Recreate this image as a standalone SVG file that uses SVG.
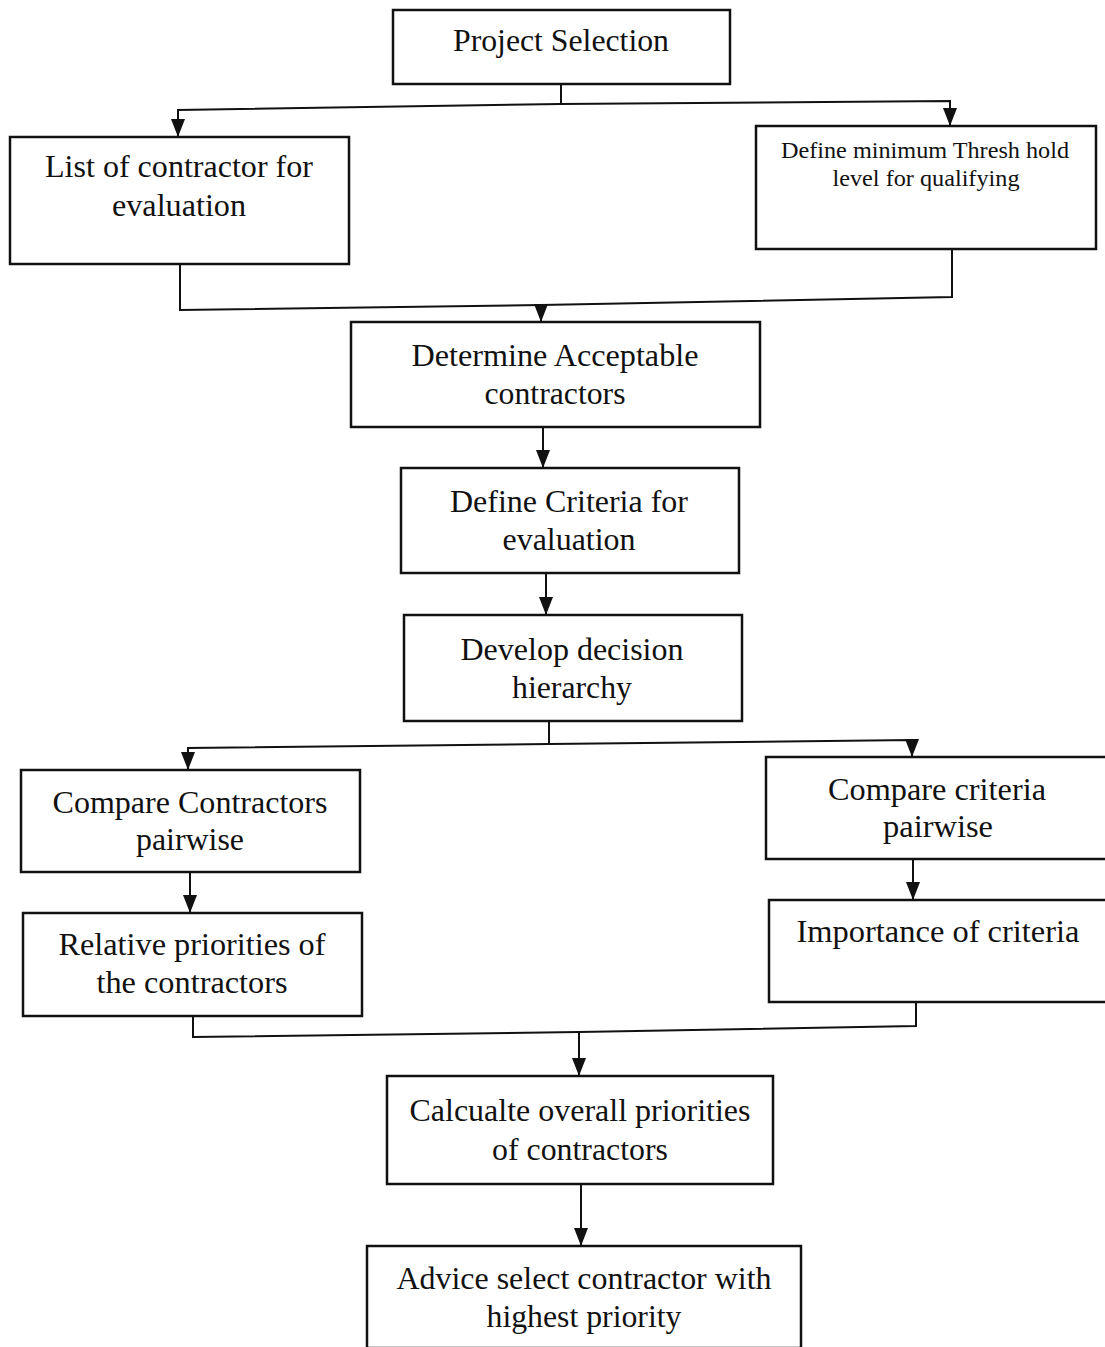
<svg xmlns="http://www.w3.org/2000/svg" width="1105" height="1347" viewBox="0 0 1105 1347">
<defs>
<marker id="ah" viewBox="0 0 18 14" refX="18" refY="7" markerWidth="18" markerHeight="14" markerUnits="userSpaceOnUse" orient="auto">
<path d="M0,0 L18,7 L0,14 Z" fill="#111"/>
</marker>
<style>
.box{fill:#fff;stroke:#111;stroke-width:2.5}
.t{font-family:"Liberation Serif","Times New Roman",serif;font-size:31px;fill:#111;text-anchor:middle}
.s{font-size:24px}
.c{fill:none;stroke:#111;stroke-width:2}
.a{fill:none;stroke:#111;stroke-width:2;marker-end:url(#ah)}
</style>
</defs>
<rect width="1105" height="1347" fill="#fff"/>
<g id="connectors">
<polyline class="c" points="561,84 561,104"/>
<polyline class="a" points="561,104 178,110 178,137"/>
<polyline class="a" points="561,104 950,101 950,126"/>
<polyline class="c" points="180,264 180,310 541,305"/>
<polyline class="c" points="952,249 952,297 541,305"/>
<polyline class="a" points="541,305 541,322"/>
<polyline class="a" points="543,427 543,468"/>
<polyline class="a" points="546,573 546,615"/>
<polyline class="c" points="549,721 549,744"/>
<polyline class="a" points="549,744 188,748 188,770"/>
<polyline class="a" points="549,744 912,740 912,757"/>
<polyline class="a" points="190,872 190,913"/>
<polyline class="a" points="913,859 913,900"/>
<polyline class="c" points="193,1016 193,1037 579,1032"/>
<polyline class="c" points="916,1002 916,1026 579,1032"/>
<polyline class="a" points="579,1032 579,1076"/>
<polyline class="a" points="581,1184 581,1246"/>
</g>
<g id="n1"><rect class="box" x="393" y="10" width="337" height="74"/><text class="t" x="561" y="51" textLength="216" lengthAdjust="spacingAndGlyphs">Project Selection</text></g>
<g id="n2"><rect class="box" x="10" y="137" width="339" height="127"/><text class="t" x="179" y="177" textLength="268" lengthAdjust="spacingAndGlyphs">List of contractor for</text><text class="t" x="179" y="216" textLength="134" lengthAdjust="spacingAndGlyphs">evaluation</text></g>
<g id="n3"><rect class="box" x="756" y="126" width="340" height="123"/><text class="t s" x="925" y="158" textLength="288" lengthAdjust="spacingAndGlyphs">Define minimum Thresh hold</text><text class="t s" x="926" y="186" textLength="187" lengthAdjust="spacingAndGlyphs">level for qualifying</text></g>
<g id="n4"><rect class="box" x="351" y="322" width="409" height="105"/><text class="t" x="555" y="366" textLength="287" lengthAdjust="spacingAndGlyphs">Determine Acceptable</text><text class="t" x="555" y="404" textLength="141" lengthAdjust="spacingAndGlyphs">contractors</text></g>
<g id="n5"><rect class="box" x="401" y="468" width="338" height="105"/><text class="t" x="569" y="512" textLength="238" lengthAdjust="spacingAndGlyphs">Define Criteria for</text><text class="t" x="569" y="550" textLength="133" lengthAdjust="spacingAndGlyphs">evaluation</text></g>
<g id="n6"><rect class="box" x="404" y="615" width="338" height="106"/><text class="t" x="572" y="660" textLength="223" lengthAdjust="spacingAndGlyphs">Develop decision</text><text class="t" x="572" y="698" textLength="120" lengthAdjust="spacingAndGlyphs">hierarchy</text></g>
<g id="n7"><rect class="box" x="21" y="770" width="339" height="102"/><text class="t" x="190" y="813" textLength="275" lengthAdjust="spacingAndGlyphs">Compare Contractors</text><text class="t" x="190" y="850" textLength="108" lengthAdjust="spacingAndGlyphs">pairwise</text></g>
<g id="n8"><rect class="box" x="766" y="757" width="341" height="102"/><text class="t" x="937" y="800" textLength="218" lengthAdjust="spacingAndGlyphs">Compare criteria</text><text class="t" x="938" y="837" textLength="110" lengthAdjust="spacingAndGlyphs">pairwise</text></g>
<g id="n9"><rect class="box" x="23" y="913" width="339" height="103"/><text class="t" x="192" y="955" textLength="267" lengthAdjust="spacingAndGlyphs">Relative priorities of</text><text class="t" x="192" y="993" textLength="191" lengthAdjust="spacingAndGlyphs">the contractors</text></g>
<g id="n10"><rect class="box" x="769" y="900" width="338" height="102"/><text class="t" x="938" y="942" textLength="283" lengthAdjust="spacingAndGlyphs">Importance of criteria</text></g>
<g id="n11"><rect class="box" x="387" y="1076" width="386" height="108"/><text class="t" x="580" y="1121" textLength="341" lengthAdjust="spacingAndGlyphs">Calcualte overall priorities</text><text class="t" x="580" y="1160" textLength="176" lengthAdjust="spacingAndGlyphs">of contractors</text></g>
<g id="n12"><rect class="box" x="367" y="1246" width="434" height="102"/><text class="t" x="584" y="1289" textLength="375" lengthAdjust="spacingAndGlyphs">Advice select contractor with</text><text class="t" x="584" y="1327" textLength="195" lengthAdjust="spacingAndGlyphs">highest priority</text></g>
</svg>
